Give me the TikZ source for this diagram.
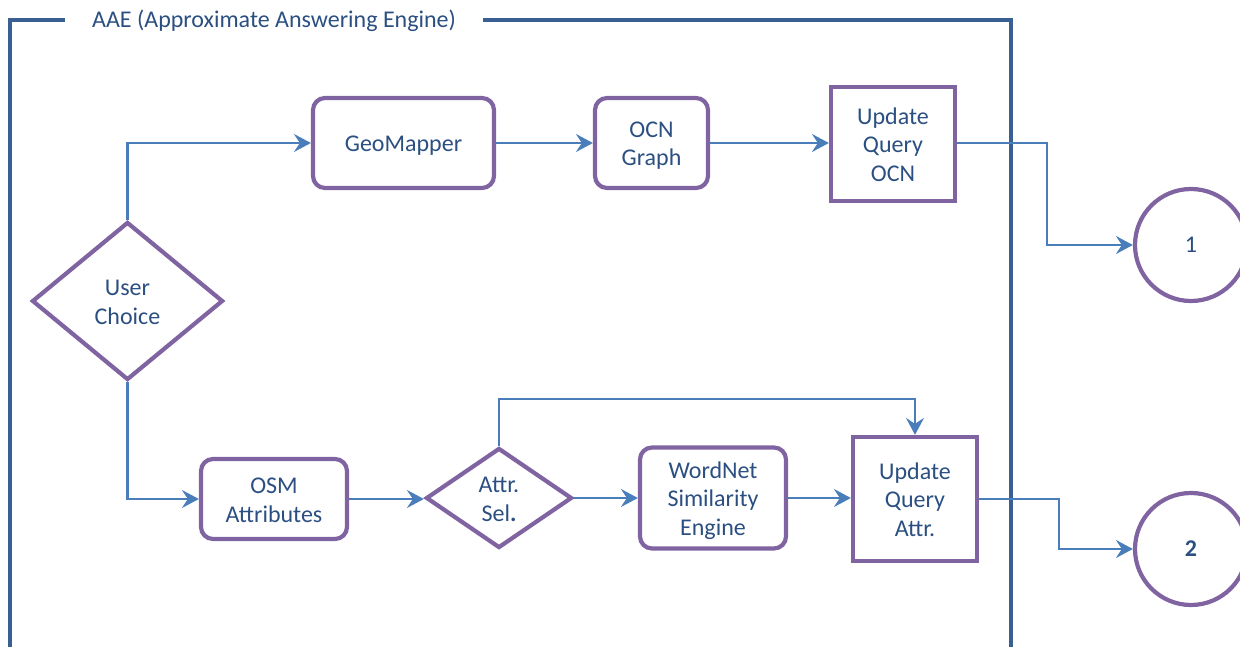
\documentclass[tikz,border=0pt]{standalone}
\usepackage{fontspec}
\setmainfont{Carlito}
\usetikzlibrary{shapes.geometric,arrows.meta}
\definecolor{nodeborder}{HTML}{8064A2}
\definecolor{conn}{HTML}{4A7EBB}
\definecolor{framecol}{HTML}{3A5F92}
\definecolor{txt}{HTML}{2B4F81}
\newcommand\tpstrut[1][27.5pt]{\rule{0pt}{#1}}
\newcommand\btstrut[1][10pt]{\rule[-#1]{0pt}{#1}}
\begin{document}
\begin{tikzpicture}[x=1pt,y=-1pt,
  every node/.style={text=txt, font=\fontsize{24}{28.5}\selectfont, align=center},
  roundbox/.style={draw=nodeborder, line width=4.2pt, rounded corners=12pt, inner sep=0pt},
  sqbox/.style={draw=nodeborder, line width=4.2pt, inner sep=0pt},
  decision/.style={diamond, draw=nodeborder, line width=4.2pt, inner sep=0pt},
  endpoint/.style={circle, draw=nodeborder, line width=4.2pt, inner sep=0pt, minimum size=112pt},
  link/.style={draw=conn, line width=2.2pt, -{Stealth[length=17pt,width=18pt,inset=6pt]}},
  framestyle/.style={draw=framecol, line width=3.2pt}]
\useasboundingbox (0,0) rectangle (1240,647);
% frame
\draw[framestyle] (65,20) -- (10,20) -- (10,660);
\draw[framestyle] (483,20) -- (1011,20) -- (1011,660);
\node[anchor=west, inner sep=0pt] (title) at (92,21) {AAE (Approximate Answering Engine)};
% nodes
\node[roundbox, minimum width=181pt, minimum height=90pt] (geo) at (403.5,143) {\tpstrut GeoMapper\btstrut};
\node[roundbox, minimum width=113pt, minimum height=90pt] (ocn) at (651.5,143) {\tpstrut OCN\\Graph\btstrut};
\node[sqbox, minimum width=124pt, minimum height=114pt] (uqo) at (893,144) {\tpstrut Update\\Query\\OCN\btstrut};
\node[endpoint] (c1) at (1191,245) {1};
\node[decision, minimum width=191pt, minimum height=158pt] (uc) at (127.5,301) {\tpstrut User\\Choice\btstrut};
\node[roundbox, minimum width=146pt, minimum height=80pt] (osm) at (274,499) {\tpstrut OSM\\Attributes\btstrut};
\node[decision, minimum width=146pt, minimum height=100pt] (as) at (499,498) {\tpstrut[19pt]Attr.\\Sel\textbf{.}\btstrut[1.5pt]};
\node[roundbox, minimum width=146pt, minimum height=101pt] (wn) at (713,498) {\tpstrut WordNet\\Similarity\\Engine\btstrut};
\node[sqbox, minimum width=124pt, minimum height=124pt] (uqa) at (915,499) {\tpstrut Update\\Query\\Attr.\btstrut};
\node[endpoint] (c2) at (1191,549) {\textbf{2}};
% connectors
\draw[link] (uc.north) |- (geo.west);
\draw[link] (geo.east) -- (ocn.west);
\draw[link] (ocn.east) -- (ocn.east -| uqo.west);
\draw[link] (uqo.east |- geo.east) -- ++(90,0) |- (c1.west);
\draw[link] (uc.south) |- (osm.west);
\draw[link] (osm.east) -- (osm.east -| as.west);
\draw[link] (as.east) -- (wn.west);
\draw[link] (wn.east) -- (wn.east -| uqa.west);
\draw[link] (as.north) -- ++(0,-47) -| (uqa.north);
\draw[link] (uqa.east) -- ++(80,0) |- (c2.west);
\end{tikzpicture}
\end{document}
